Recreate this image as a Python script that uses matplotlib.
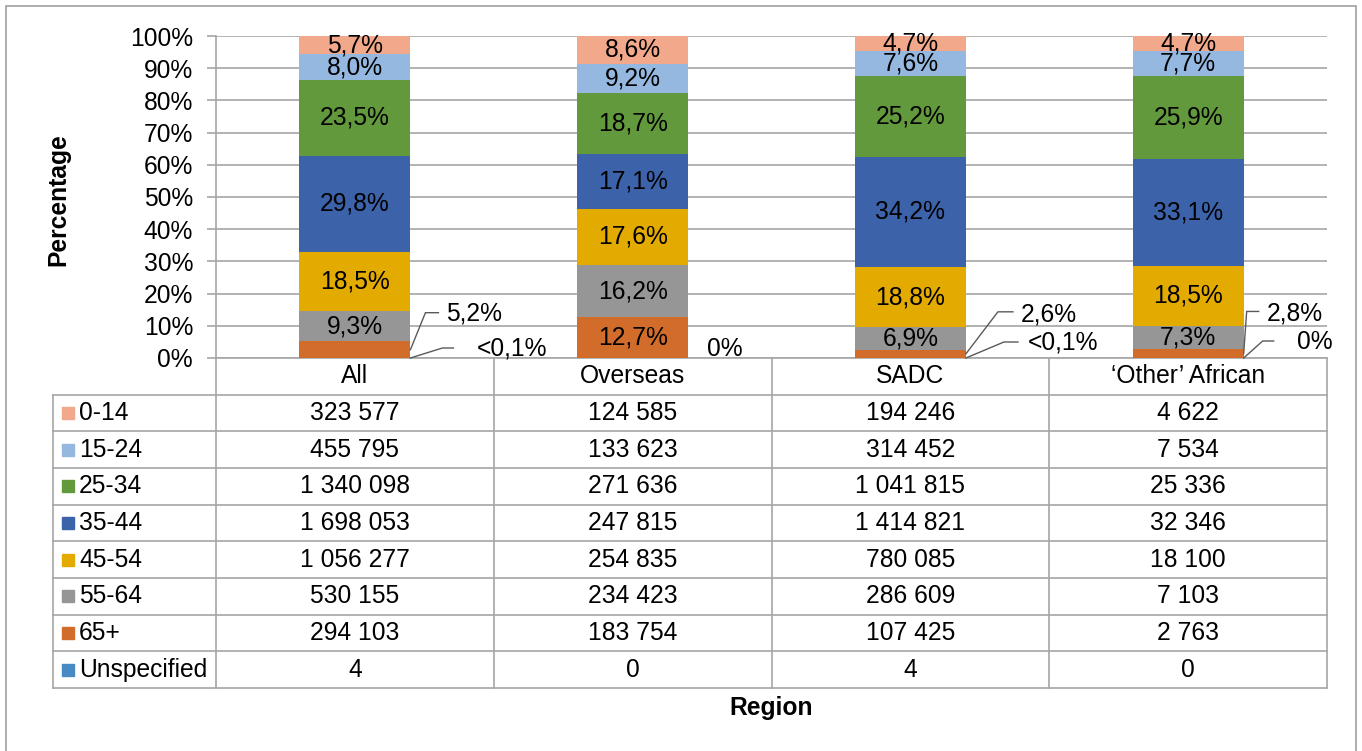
import matplotlib
matplotlib.use('Agg')
from matplotlib import pyplot as plt
from matplotlib.ticker import PercentFormatter
from matplotlib.patches import Rectangle
import numpy as np

# regions (columns) and age groups (table rows, top to bottom)
regions = ['All', 'Overseas', 'SADC', '\u2018Other\u2019 African']
age_groups = ['0-14', '15-24', '25-34', '35-44', '45-54', '55-64', '65+', 'Unspecified']

count_0_14 = [323577, 124585, 194246, 4622]
count_15_24 = [455795, 133623, 314452, 7534]
count_25_34 = [1340098, 271636, 1041815, 25336]
count_35_44 = [1698053, 247815, 1414821, 32346]
count_45_54 = [1056277, 254835, 780085, 18100]
count_55_64 = [530155, 234423, 286609, 7103]
count_65_plus = [294103, 183754, 107425, 2763]
count_unspecified = [4, 0, 4, 0]

colours = ['#F2A88A', '#95B8E0', '#62993D', '#3C62AA', '#E3AA00', '#969696', '#D26C2B', '#4A8AC4']

# labels moved outside the bars: text offset and leader line offsets, in pixels (x right, y up)
callouts = {
    (0, '65+'): ((64, 36), [(15, 37), (28, 37)]),
    (0, 'Unspecified'): ((102, 9), [(32, 10), (43, 10)]),
    (1, 'Unspecified'): ((37, 9), []),
    (2, '65+'): ((83, 39), [(32, 42), (47, 42)]),
    (2, 'Unspecified'): ((97, 15), [(38, 16), (52, 16)]),
    (3, '65+'): ((51, 40), [(3, 42), (15, 42)]),
    (3, 'Unspecified'): ((71, 16), [(19, 17), (30, 17)]),
}

W, H = 1362, 751
FS = 17.7
GRID = '#A6A6A6'


def pct_label(count, share):
    if count == 0:
        return '0%'
    if share < 0.001:
        return '<0,1%'
    return ('%.1f' % (share * 100)).replace('.', ',') + '%'


def main():
    plt.rcParams['font.family'] = ['Liberation Sans', 'DejaVu Sans']

    counts = np.array([count_0_14, count_15_24, count_25_34, count_35_44,
                       count_45_54, count_55_64, count_65_plus, count_unspecified], dtype=float)
    shares = counts / counts.sum(axis=0)

    fig = plt.figure(figsize=(W / 100, H / 100), dpi=100)
    fig.patches.append(Rectangle((6 / W, -0.05), 1350 / W, 1.05 - 6 / H, transform=fig.transFigure,
                                 fill=False, edgecolor='#A0A0A0', lw=1.2))

    ax = fig.add_axes([216 / W, 1 - 358 / H, 1111 / W, 322 / H])
    x = np.arange(len(regions))
    bar_w = 0.4
    px_x = 1111 / 4.0
    px_y = 322.0

    # stack from the bottom: last table row first
    bottom = np.zeros(len(regions))
    for k in range(len(age_groups) - 1, -1, -1):
        name = age_groups[k]
        ax.bar(x, shares[k], bar_w, bottom=bottom, color=colours[k], zorder=3)
        for i in range(len(regions)):
            label = pct_label(counts[k, i], shares[k, i])
            mid = bottom[i] + shares[k, i] / 2
            if (i, name) in callouts:
                (tx, ty), line = callouts[(i, name)]
                ax0 = x[i] + bar_w / 2
                ay0 = mid if name != 'Unspecified' else bottom[i]
                ax.text(ax0 + tx / px_x, ay0 + ty / px_y, label, ha='center', va='center',
                        fontsize=FS, zorder=5)
                if line:
                    lx = [ax0] + [ax0 + p[0] / px_x for p in line]
                    ly = [ay0] + [ay0 + p[1] / px_y for p in line]
                    ax.plot(lx, ly, color='#595959', lw=1, zorder=5, clip_on=False)
            elif name != 'Unspecified':
                ax.text(x[i], mid, label, ha='center', va='center', fontsize=FS, zorder=4)
        bottom += shares[k]

    ax.set_xlim(-0.5, 3.5)
    ax.set_ylim(0, 1)
    ax.set_yticks(np.arange(0, 1.01, 0.1))
    ax.yaxis.set_major_formatter(PercentFormatter(xmax=1, decimals=0))
    ax.tick_params(axis='y', labelsize=FS, length=6.5, pad=10, color=GRID, width=1.2)
    ax.set_xticks([])
    ax.grid(axis='y', color=GRID, lw=1.2, zorder=0)
    for s in ['top', 'right']:
        ax.spines[s].set_visible(False)
    for s in ['left', 'bottom']:
        ax.spines[s].set_color(GRID)
        ax.spines[s].set_linewidth(1.2)

    # data table below the bars
    tax = fig.add_axes([53 / W, 1 - 688 / H, 1274 / W, 330 / H])
    tax.axis('off')
    x_left = -0.5 - 163 / px_x
    n = len(age_groups)
    tax.set_xlim(x_left, 3.5)
    tax.set_ylim(n + 1, 0)
    for r in range(1, n + 2):
        tax.plot([x_left, 3.5], [r, r], color=GRID, lw=1.2, clip_on=False)
    for c in range(len(regions) + 1):
        tax.plot([c - 0.5, c - 0.5], [0, n + 1], color=GRID, lw=1.2, clip_on=False)
    tax.plot([x_left, x_left], [1, n + 1], color=GRID, lw=1.2, clip_on=False)

    for i, reg in enumerate(regions):
        tax.text(i, 0.5, reg, ha='center', va='center', fontsize=FS)
    for k, name in enumerate(age_groups):
        y = k + 1.5
        tax.plot([x_left + 15 / px_x], [y], marker='s', ms=8.5, color=colours[k], ls='none')
        tax.text(x_left + 26 / px_x, y, name, ha='left', va='center', fontsize=FS)
        for i in range(len(regions)):
            val = '{:,}'.format(int(counts[k, i])).replace(',', ' ')
            tax.text(i, y, val, ha='center', va='center', fontsize=FS)

    fig.text(58 / W, 1 - 200 / H, 'Percentage', rotation=90, ha='center', va='center',
             fontsize=FS, fontweight='bold')
    fig.text(771 / W, 1 - 708 / H, 'Region', ha='center', va='center',
             fontsize=FS, fontweight='bold')

    fig.savefig('out.png', dpi=100)


if __name__ == '__main__':
    main()
